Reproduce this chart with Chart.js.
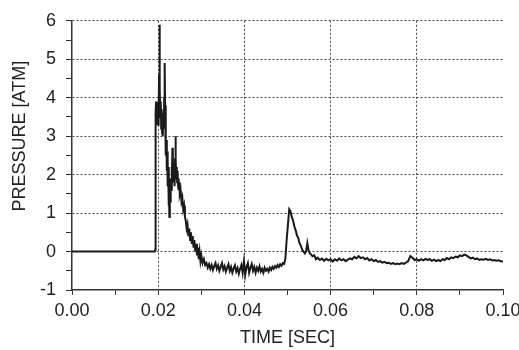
<!DOCTYPE html>
<html>
<head>
<meta charset="utf-8">
<script src="https://cdn.jsdelivr.net/npm/chart.js@4"></script>
<style>
  html, body { margin: 0; padding: 0; background: #fff; }
  canvas { display: block; }
</style>
</head>
<body>
<canvas id="c" width="519" height="350"></canvas>
<script>
// ---- data ----
const timeSec = [
  0.0000, 0.0100, 0.0192, 0.0193, 0.0194, 0.0195, 0.0196, 0.0197, 0.0198, 0.0199,
  0.0200, 0.0201, 0.0202, 0.0203, 0.0204, 0.0205, 0.0206, 0.0207, 0.0208, 0.0209,
  0.0210, 0.0211, 0.0212, 0.0213, 0.0214, 0.0215, 0.0216, 0.0217, 0.0218, 0.0219,
  0.0220, 0.0221, 0.0222, 0.0223, 0.0224, 0.0225, 0.0226, 0.0227, 0.0228, 0.0229,
  0.0230, 0.0231, 0.0232, 0.0233, 0.0234, 0.0235, 0.0236, 0.0237, 0.0238, 0.0239,
  0.0240, 0.0241, 0.0242, 0.0243, 0.0244, 0.0245, 0.0246, 0.0247, 0.0248, 0.0249,
  0.0250, 0.0252, 0.0254, 0.0256, 0.0258, 0.0260, 0.0262, 0.0264, 0.0266, 0.0268,
  0.0270, 0.0272, 0.0274, 0.0276, 0.0278, 0.0280, 0.0282, 0.0284, 0.0286, 0.0288,
  0.0290, 0.0292, 0.0294, 0.0296, 0.0298, 0.0300, 0.0303, 0.0306, 0.0309, 0.0312,
  0.0315, 0.0318, 0.0321, 0.0324, 0.0327, 0.0330, 0.0333, 0.0336, 0.0339, 0.0342,
  0.0345, 0.0348, 0.0351, 0.0354, 0.0357, 0.0360, 0.0363, 0.0366, 0.0369, 0.0372,
  0.0375, 0.0378, 0.0381, 0.0384, 0.0387, 0.0390, 0.0393, 0.0396, 0.0399, 0.0402,
  0.0405, 0.0408, 0.0411, 0.0414, 0.0417, 0.0420, 0.0423, 0.0426, 0.0429, 0.0432,
  0.0435, 0.0438, 0.0441, 0.0444, 0.0447, 0.0450, 0.0453, 0.0456, 0.0459, 0.0462,
  0.0465, 0.0468, 0.0471, 0.0474, 0.0477, 0.0480, 0.0483, 0.0486, 0.0489, 0.0492,
  0.0495, 0.0498, 0.0501, 0.0504, 0.0507, 0.0510, 0.0513, 0.0516, 0.0519, 0.0522,
  0.0525, 0.0528, 0.0531, 0.0534, 0.0537, 0.0540, 0.0543, 0.0546, 0.0549, 0.0552,
  0.0555, 0.0558, 0.0562, 0.0566, 0.0570, 0.0575, 0.0580, 0.0585, 0.0590, 0.0595,
  0.0600, 0.0605, 0.0610, 0.0615, 0.0620, 0.0625, 0.0630, 0.0635, 0.0640, 0.0645,
  0.0650, 0.0655, 0.0660, 0.0665, 0.0670, 0.0675, 0.0680, 0.0685, 0.0690, 0.0695,
  0.0700, 0.0705, 0.0710, 0.0715, 0.0720, 0.0725, 0.0730, 0.0735, 0.0740, 0.0745,
  0.0750, 0.0755, 0.0760, 0.0765, 0.0770, 0.0775, 0.0780, 0.0785, 0.0790, 0.0795,
  0.0800, 0.0805, 0.0810, 0.0815, 0.0820, 0.0825, 0.0830, 0.0835, 0.0840, 0.0845,
  0.0850, 0.0855, 0.0860, 0.0865, 0.0870, 0.0875, 0.0880, 0.0885, 0.0890, 0.0895,
  0.0900, 0.0905, 0.0910, 0.0915, 0.0920, 0.0925, 0.0930, 0.0935, 0.0940, 0.0945,
  0.0950, 0.0955, 0.0960, 0.0965, 0.0970, 0.0975, 0.0980, 0.0985, 0.0990, 0.0995,
  0.1000
];
const pressureAtm = [
  0, 0, 0, 0.05, 3.6, 3.9, 3.3, 3.7, 3.4, 3.8,
  3.3, 3.6, 4.6, 5.9, 4.2, 3.5, 3.9, 3.2, 3.7, 3.1,
  3.6, 3.0, 3.5, 3.2, 4.0, 4.9, 3.8, 2.9, 2.5, 2.9,
  2.1, 2.6, 1.7, 2.2, 1.2, 1.8, 0.9, 1.6, 1.3, 1.9,
  1.6, 2.2, 1.8, 2.7, 2.1, 2.3, 1.8, 2.0, 1.7, 2.4,
  3.0, 2.4, 1.9, 2.2, 1.8, 2.1, 1.7, 1.9, 1.6, 1.8,
  1.5, 1.6, 1.3, 1.4, 1.1, 1.2, 0.9, 0.8, 0.6, 0.7,
  0.4, 0.6, 0.3, 0.5, 0.2, 0.4, 0.1, 0.3, 0.0, 0.2,
  -0.1, 0.1, -0.2, 0.0, -0.25, -0.1, -0.3, -0.2, -0.35, -0.3,
  -0.42, -0.33, -0.45, -0.35, -0.48, -0.38, -0.3, -0.45, -0.36, -0.5,
  -0.4, -0.3, -0.47, -0.38, -0.52, -0.42, -0.33, -0.5, -0.4, -0.55,
  -0.44, -0.36, -0.52, -0.43, -0.58, -0.45, -0.35, -0.55, -0.25, -0.6,
  -0.4, -0.3, -0.55, -0.42, -0.32, -0.5, -0.4, -0.55, -0.42, -0.5,
  -0.38, -0.52, -0.45, -0.55, -0.42, -0.5, -0.45, -0.52, -0.42, -0.48,
  -0.4, -0.45, -0.38, -0.42, -0.35, -0.4, -0.33, -0.37, -0.3, -0.32,
  -0.2, 0.3, 0.7, 1.1, 1.05, 0.9, 0.8, 0.65, 0.55, 0.42,
  0.35, 0.22, 0.15, 0.05, 0.0, -0.05, 0.0, 0.22, 0.02, -0.05,
  -0.08, -0.12, -0.1, -0.2, -0.16, -0.22, -0.18, -0.24, -0.19, -0.23,
  -0.2, -0.26, -0.2, -0.24, -0.18, -0.23, -0.2, -0.25, -0.21, -0.18,
  -0.2, -0.14, -0.18, -0.12, -0.17, -0.15, -0.2, -0.17, -0.23, -0.2,
  -0.25, -0.22, -0.27, -0.25, -0.29, -0.27, -0.3, -0.29, -0.32, -0.3,
  -0.33, -0.31, -0.33, -0.3, -0.32, -0.29, -0.25, -0.12, -0.16, -0.22,
  -0.2, -0.24, -0.2, -0.23, -0.19, -0.22, -0.2, -0.24, -0.21, -0.25,
  -0.22, -0.25, -0.2, -0.22, -0.17, -0.2, -0.15, -0.17, -0.13, -0.15,
  -0.1, -0.12, -0.08, -0.1, -0.14, -0.18, -0.16, -0.2, -0.18, -0.22,
  -0.2, -0.21, -0.19, -0.22, -0.2, -0.23, -0.22, -0.24, -0.23, -0.25,
  -0.26
];
const xAxisTitle = 'TIME [SEC]';
const yAxisTitle = 'PRESSURE [ATM]';
const xRange = [0, 0.1];
const yRange = [-1, 6];

// ---- chart ----
const points = timeSec.map((t, i) => ({ x: t, y: pressureAtm[i] }));
const TEXT = '#222';
const GRID = '#444';
const AXIS = '#333';
const FONT = '"Liberation Sans", Arial, sans-serif';

const yTitlePlugin = {
  id: 'yTitle',
  afterDraw(chart) {
    const ys = chart.scales.y;
    const c = chart.ctx;
    c.save();
    c.translate(20, ys.getPixelForValue(3));
    c.rotate(-Math.PI / 2);
    c.textAlign = 'center';
    c.textBaseline = 'middle';
    c.font = '18px ' + FONT;
    c.fillStyle = TEXT;
    c.fillText(yAxisTitle, 0, 0);
    c.restore();
  }
};

new Chart(document.getElementById('c'), {
  type: 'line',
  data: {
    datasets: [{
      data: points,
      borderColor: '#1a1a1a',
      borderWidth: 2,
      pointRadius: 0,
      tension: 0,
      fill: false
    }]
  },
  plugins: [yTitlePlugin],
  options: {
    responsive: false,
    animation: false,
    events: [],
    layout: { padding: { top: 14, right: 16, left: 0, bottom: 0 } },
    plugins: { legend: { display: false }, tooltip: { enabled: false } },
    scales: {
      x: {
        type: 'linear',
        min: xRange[0], max: xRange[1],
        afterFit(s) { s.height = 60; s.paddingLeft = 0; s.paddingRight = 0; },
        border: { display: true, color: AXIS, width: 1.5, dash: [2, 2] },
        grid: {
          drawTicks: true,
          tickLength: 5,
          tickColor: AXIS,
          tickWidth: 1,
          tickBorderDash: [],
          lineWidth: 1,
          color(ctx) {
            const n = Math.round(ctx.tick.value * 100);
            return (n % 2 === 0 && n !== 0 && n !== 10) ? GRID : 'rgba(0,0,0,0)';
          }
        },
        ticks: {
          stepSize: 0.01,
          autoSkip: false,
          maxRotation: 0,
          padding: 5,
          color: TEXT,
          font: { family: FONT, size: 18 },
          callback(v) {
            const n = Math.round(v * 100);
            return n % 2 === 0 ? (n / 100).toFixed(2) : '';
          }
        },
        title: {
          display: true,
          text: xAxisTitle,
          color: TEXT,
          font: { family: FONT, size: 18 },
          padding: { top: 0, bottom: 1 }
        }
      },
      y: {
        type: 'linear',
        min: yRange[0], max: yRange[1],
        afterFit(s) { s.width = 72; },
        border: { display: true, color: AXIS, width: 1.5, dash: [2, 2] },
        grid: {
          drawTicks: true,
          tickLength: 6,
          tickColor: AXIS,
          tickWidth: 1,
          tickBorderDash: [],
          lineWidth: 1,
          color(ctx) {
            const v = ctx.tick.value;
            return (Number.isInteger(v) && v !== -1) ? GRID : 'rgba(0,0,0,0)';
          }
        },
        ticks: {
          stepSize: 0.5,
          autoSkip: false,
          padding: 10,
          color: TEXT,
          font: { family: FONT, size: 18 },
          callback(v) { return Number.isInteger(v) ? String(v) : ''; }
        },
        title: { display: false }
      }
    }
  }
});
</script>
</body>
</html>
